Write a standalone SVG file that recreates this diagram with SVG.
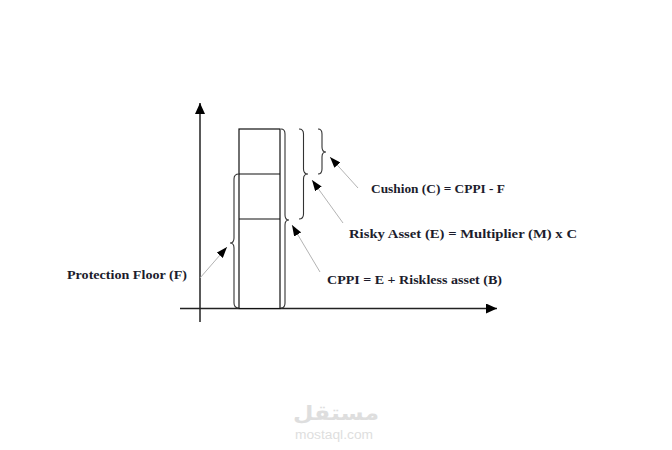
<svg xmlns="http://www.w3.org/2000/svg" width="672" height="450" viewBox="0 0 672 450">
<defs>
<style>
.lbl{font-family:"Liberation Serif","DejaVu Serif",serif;font-weight:bold;font-size:13px;fill:#1c1c2c}
.axis{stroke:#222;stroke-width:1.5;fill:none}
.brace{stroke:#333;stroke-width:1.1;fill:none}
.box{stroke:#111;stroke-width:1.2;fill:#fff}
.ptr{stroke:#aaa;stroke-width:0.9;fill:none}
.wm{font-family:"Liberation Sans","DejaVu Sans",sans-serif;fill:#dedede}
</style>
<marker id="ah" markerUnits="userSpaceOnUse" markerWidth="12" markerHeight="10" refX="11" refY="5" orient="auto">
<path d="M0,0 L11,5 L0,10 Z" fill="#000"/>
</marker>
<marker id="pa" markerUnits="userSpaceOnUse" markerWidth="12" markerHeight="8" refX="11" refY="4" orient="auto">
<path d="M0,0 L11,4 L0,8 Z" fill="#000"/>
</marker>
</defs>
<rect width="672" height="450" fill="#fff"/>
<g id="axes">
<line class="axis" x1="200" y1="322" x2="200" y2="103" marker-end="url(#ah)"/>
<line class="axis" x1="180" y1="308.5" x2="497" y2="308.5" marker-end="url(#ah)"/>
</g>
<g id="bar">
<rect class="box" x="239" y="129" width="41" height="179.5"/>
<line class="box" x1="239" y1="174" x2="280" y2="174"/>
<line class="box" x1="239" y1="219" x2="280" y2="219"/>
</g>
<g id="braces">
<path id="brace-floor" class="brace" d="M239,174 Q234,174 234,179 L234,238 Q234,243 230,243 Q234,243 234,248 L234,303 Q234,308 239,308"/>
<path id="brace-cppi" class="brace" d="M281,129 Q285,129 285,134 L285,215 Q285,220 289,220 Q285,220 285,225 L285,303 Q285,308 281,308"/>
<path id="brace-risky" class="brace" d="M299,129 Q303.5,129 303.5,134 L303.5,169 Q303.5,174 308,174 Q303.5,174 303.5,179 L303.5,214 Q303.5,219 299,219"/>
<path id="brace-cushion" class="brace" d="M318,129 Q322,129 322,134 L322,147 Q322,152 326,152 Q322,152 322,157 L322,169 Q322,174 318,174"/>
</g>
<g id="connectors">
<line class="ptr" x1="358" y1="188" x2="330" y2="157" marker-end="url(#pa)"/>
<line class="ptr" x1="343" y1="223" x2="312" y2="180" marker-end="url(#pa)"/>
<line class="ptr" x1="320" y1="272" x2="292" y2="225" marker-end="url(#pa)"/>
<line class="ptr" x1="200" y1="278" x2="227" y2="247" marker-end="url(#pa)"/>
</g>
<g id="label-cushion"><text class="lbl" x="371" y="193" textLength="134" lengthAdjust="spacingAndGlyphs">Cushion (C) = CPPI - F</text></g>
<g id="label-risky"><text class="lbl" x="349" y="237.5" textLength="228" lengthAdjust="spacingAndGlyphs">Risky Asset (E) = Multiplier (M) x C</text></g>
<g id="label-cppi"><text class="lbl" x="327" y="283.5" textLength="175" lengthAdjust="spacingAndGlyphs">CPPI = E + Riskless asset (B)</text></g>
<g id="label-floor"><text class="lbl" x="67" y="278.5" textLength="120" lengthAdjust="spacingAndGlyphs">Protection Floor (F)</text></g>
<g id="watermark">
<text class="wm" x="336" y="420" font-size="20" font-weight="bold" text-anchor="middle" textLength="86" lengthAdjust="spacingAndGlyphs" font-family="'Noto Sans','DejaVu Sans',sans-serif">مستقل</text>
<text class="wm" x="334" y="439" font-size="12" text-anchor="middle" textLength="78" lengthAdjust="spacingAndGlyphs">mostaql.com</text>
</g>
</svg>
